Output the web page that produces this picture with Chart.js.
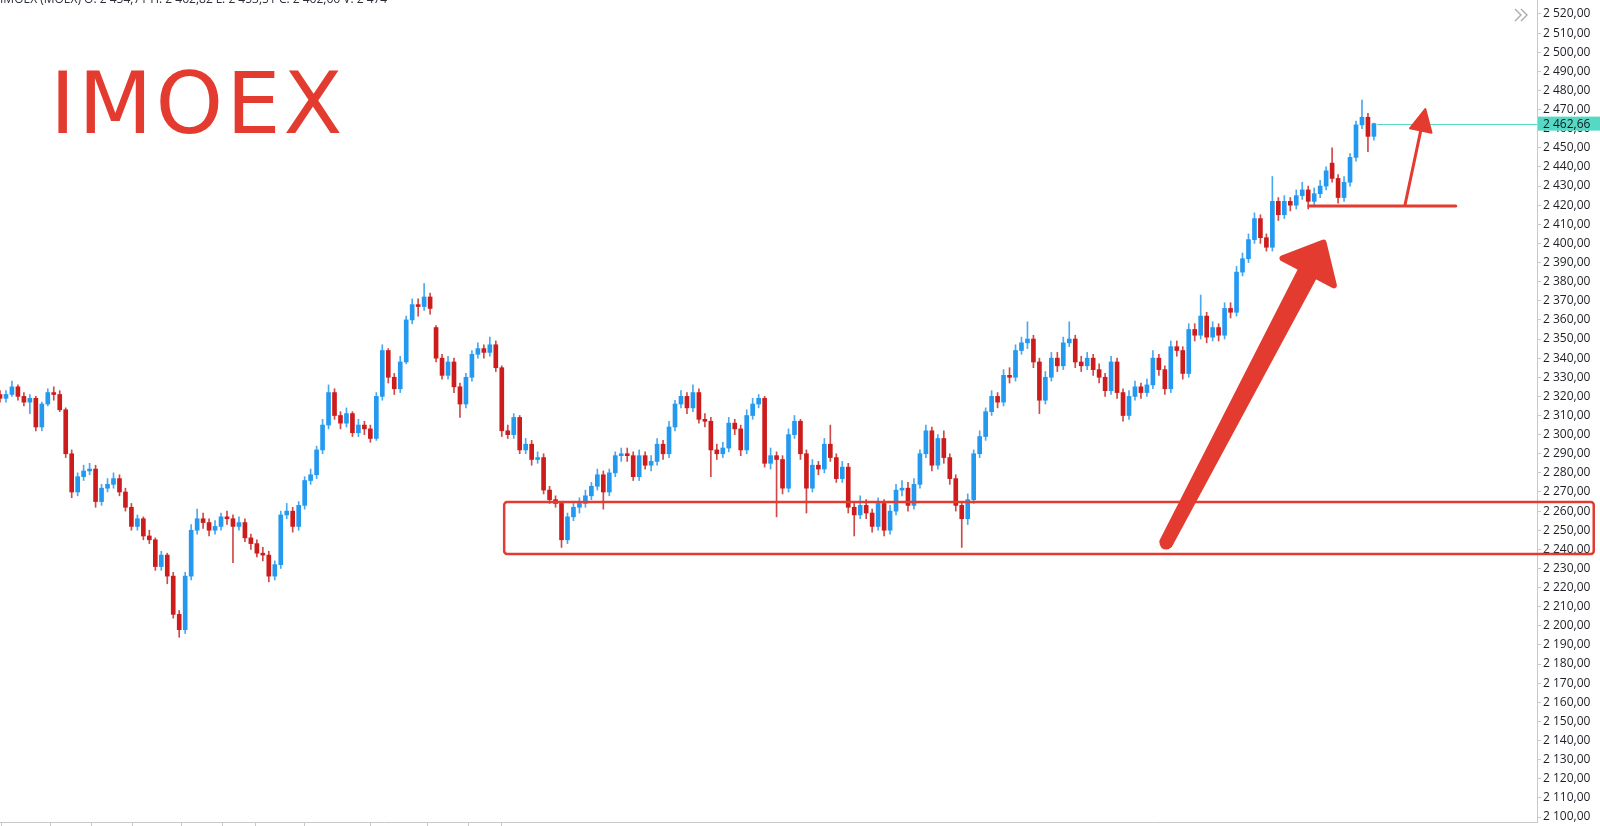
<!DOCTYPE html>
<html>
<head>
<meta charset="utf-8">
<title>IMOEX</title>
<script src="https://cdn.jsdelivr.net/npm/chart.js@4.4.1/dist/chart.umd.min.js"></script>
<style>
  html, body { margin: 0; padding: 0; background: #fff; }
  #wrap { width: 1600px; height: 826px; }
</style>
</head>
<body>
<div id="wrap"><canvas id="chart" width="1600" height="826"></canvas></div>
<script>
// --- данные свечей (оценка по картинке) ---
const opens = [
  2321,2319,2321,2325,2320,2317,2319,2304,2316,2322,
  2321,2313,2290,2270,2278,2281,2282,2265,2272,2274,
  2277,2270,2262,2252,2256,2247,2245,2231,2237,2226,
  2206,2198,2226,2250,2256,2254,2250,2252,2257,2256,
  2252,2254,2246,2243,2238,2237,2226,2232,2258,2260,
  2252,2263,2276,2279,2292,2305,2322,2310,2306,2311,
  2301,2305,2303,2298,2320,2344,2330,2324,2338,2360,
  2368,2367,2372,2356,2340,2331,2338,2325,2316,2330,
  2342,2345,2343,2347,2335,2302,2300,2309,2292,2295,
  2287,2288,2271,2266,2264,2245,2257,2262,2264,2268,
  2273,2279,2270,2280,2289,2290,2289,2278,2289,2284,
  2286,2295,2290,2304,2316,2320,2314,2322,2308,2307,
  2292,2290,2293,2306,2303,2292,2310,2316,2319,2285,
  2289,2287,2272,2300,2307,2290,2272,2284,2282,2295,
  2288,2277,2283,2262,2258,2263,2259,2252,2264,2250,
  2260,2271,2272,2263,2274,2290,2302,2284,2298,2288,
  2277,2263,2256,2266,2290,2299,2312,2320,2317,2331,
  2330,2344,2348,2350,2338,2318,2330,2340,2336,2348,
  2350,2338,2336,2340,2334,2330,2323,2338,2322,2310,
  2320,2325,2322,2326,2340,2334,2324,2346,2344,2332,
  2355,2352,2362,2351,2356,2352,2366,2364,2385,2392,
  2402,2413,2403,2398,2422,2415,2422,2420,2425,2428,
  2422,2426,2430,2442,2434,2424,2432,2445,2462,2466,
  2456
];
const highs = [
  2323,2323,2328,2326,2322,2321,2320,2317,2324,2325,
  2323,2314,2292,2280,2284,2285,2284,2274,2277,2280,
  2279,2272,2264,2258,2257,2250,2246,2239,2238,2228,
  2208,2228,2253,2261,2259,2256,2255,2259,2260,2258,
  2257,2256,2248,2245,2241,2239,2234,2260,2264,2262,
  2265,2278,2282,2294,2308,2326,2324,2312,2314,2312,
  2308,2307,2305,2322,2347,2345,2332,2341,2362,2371,
  2371,2379,2374,2357,2342,2341,2340,2327,2332,2344,
  2348,2347,2351,2349,2336,2305,2311,2310,2298,2297,
  2291,2290,2273,2268,2265,2259,2265,2267,2271,2275,
  2282,2281,2282,2291,2293,2293,2291,2292,2291,2289,
  2298,2297,2307,2318,2323,2322,2326,2324,2311,2309,
  2295,2296,2309,2308,2305,2313,2319,2321,2320,2293,
  2291,2289,2303,2310,2308,2292,2287,2286,2298,2305,
  2290,2286,2285,2264,2268,2266,2261,2267,2266,2263,
  2274,2276,2275,2277,2292,2305,2304,2300,2302,2290,
  2279,2265,2269,2292,2302,2314,2323,2322,2334,2335,
  2347,2351,2359,2352,2340,2333,2343,2343,2351,2359,
  2352,2341,2343,2342,2337,2332,2341,2340,2324,2323,
  2328,2327,2329,2344,2342,2336,2349,2349,2346,2358,
  2358,2373,2364,2359,2358,2369,2369,2388,2395,2405,
  2416,2415,2405,2435,2424,2425,2424,2428,2432,2430,
  2429,2433,2440,2450,2436,2435,2447,2464,2475,2468,
  2463
];
const lows = [
  2317,2317,2320,2318,2315,2311,2302,2302,2315,2318,
  2312,2288,2267,2268,2276,2279,2262,2263,2270,2272,
  2268,2260,2250,2250,2245,2243,2229,2229,2222,2204,
  2194,2196,2224,2248,2251,2247,2248,2250,2253,2233,
  2250,2244,2240,2236,2234,2223,2224,2230,2256,2249,
  2250,2261,2274,2277,2290,2303,2308,2303,2304,2299,
  2299,2300,2296,2297,2318,2327,2321,2322,2337,2358,
  2362,2365,2363,2338,2329,2329,2322,2309,2314,2328,
  2340,2340,2341,2333,2299,2298,2298,2290,2290,2284,
  2285,2269,2264,2262,2241,2243,2255,2259,2262,2266,
  2271,2261,2268,2278,2286,2286,2276,2276,2282,2281,
  2284,2287,2288,2302,2314,2311,2312,2306,2304,2278,
  2287,2288,2291,2300,2289,2290,2308,2314,2283,2282,
  2257,2269,2270,2298,2287,2259,2270,2279,2280,2286,
  2275,2275,2259,2247,2256,2256,2249,2250,2247,2248,
  2258,2268,2260,2261,2272,2288,2281,2282,2285,2274,
  2260,2241,2253,2264,2288,2297,2310,2314,2315,2327,
  2328,2342,2345,2335,2311,2316,2328,2333,2334,2346,
  2335,2333,2334,2331,2327,2320,2321,2319,2307,2308,
  2318,2319,2320,2324,2331,2321,2322,2341,2329,2330,
  2349,2350,2348,2349,2349,2350,2361,2362,2383,2390,
  2400,2400,2396,2396,2412,2413,2417,2418,2423,2418,
  2420,2424,2428,2432,2421,2422,2430,2443,2460,2448,
  2454
];
const closes = [
  2319,2321,2325,2320,2317,2319,2304,2316,2322,2321,
  2313,2290,2270,2278,2281,2282,2265,2272,2274,2277,
  2270,2262,2252,2256,2247,2245,2231,2237,2226,2206,
  2198,2226,2250,2256,2254,2250,2252,2257,2256,2252,
  2254,2246,2243,2238,2237,2226,2232,2258,2260,2252,
  2263,2276,2279,2292,2305,2322,2310,2306,2311,2301,
  2305,2303,2298,2320,2344,2330,2324,2338,2360,2368,
  2367,2372,2366,2340,2331,2338,2325,2316,2330,2342,
  2345,2343,2347,2335,2302,2300,2309,2292,2295,2287,
  2288,2271,2266,2264,2245,2257,2262,2264,2268,2273,
  2279,2270,2280,2289,2290,2289,2278,2289,2284,2286,
  2295,2290,2304,2316,2320,2314,2322,2308,2307,2292,
  2290,2293,2306,2303,2292,2310,2316,2319,2285,2289,
  2287,2272,2300,2307,2290,2272,2284,2282,2295,2288,
  2277,2283,2262,2258,2263,2259,2252,2264,2250,2260,
  2271,2272,2263,2274,2290,2302,2284,2298,2288,2277,
  2263,2256,2266,2290,2299,2312,2320,2317,2331,2330,
  2344,2348,2350,2338,2318,2330,2340,2336,2348,2350,
  2338,2336,2340,2334,2330,2323,2338,2322,2310,2320,
  2325,2322,2326,2340,2334,2324,2346,2344,2332,2355,
  2352,2362,2351,2356,2352,2366,2364,2385,2392,2402,
  2413,2403,2398,2422,2415,2422,2420,2425,2428,2422,
  2426,2430,2438,2434,2424,2432,2445,2462,2466,2456,
  2462.66
];

// отметки начала дней на оси времени (индексы свечей)
const dayStarts = [4.4, 12.6, 18.1, 26.3, 34.5, 40, 45.5, 56.4, 67.5, 75.7, 81.2];

// подписи оси цены
const priceTicks = [];
for (let v = 2100; v <= 2520; v += 10) priceTicks.push(v);

const headerText = 'IMOEX (MOEX) O: 2 454,71 H: 2 462,82 L: 2 453,51 C: 2 462,66 V: 2 474';
const lastPrice = 2462.66;

// разметка на графике (в координатах данных: индекс свечи, цена)
const zoneBox = { x0: 84.4, x1: 266.8, top: 2264.8, bottom: 2237.6 };
const bigArrow = { x0: 195.2, y0: 2243.3, x1: 221.8, y1: 2401.8 };
const supportLine = { x0: 219.1, x1: 243.7, y: 2419.6 };
const smallArrow = { x0: 235.2, y0: 2420.1, x1: 238.6, y1: 2470.3 };

const UP = '#2399f0', DOWN = '#cc1c1c';
const UP_WICK = '#4aa8f0', DOWN_WICK = '#d04848';
const MARK_RED = '#e43b30';
const PRICE_LINE = '#55d8c4';
const AXIS_TEXT = '#1c1f26';
const AXIS_LINE = '#c9c9c9';

function fmtPrice(v) {
  const [i, d] = v.toFixed(2).split('.');
  return i.replace(/\B(?=(\d{3})+(?!\d))/g, ' ') + ',' + d;
}

const idx = closes.map((_, i) => i);
const isUp = i => closes[i] >= opens[i];

function drawFatArrow(ctx, tx, ty, hx, hy) {
  const dx = hx - tx, dy = hy - ty, len = Math.hypot(dx, dy);
  const ux = dx / len, uy = dy / len, nx = -uy, ny = ux;
  const tipX = hx - ux * 3, tipY = hy - uy * 3;
  const headLen = 33, headHalf = 29, w0 = 4, w1 = 7.5;
  const bx = tipX - ux * headLen, by = tipY - uy * headLen;
  ctx.beginPath();
  ctx.moveTo(tx + nx * w0, ty + ny * w0);
  ctx.lineTo(bx + nx * w1, by + ny * w1);
  ctx.lineTo(bx + nx * headHalf, by + ny * headHalf);
  ctx.lineTo(tipX, tipY);
  ctx.lineTo(bx - nx * headHalf, by - ny * headHalf);
  ctx.lineTo(bx - nx * w1, by - ny * w1);
  ctx.lineTo(tx - nx * w0, ty - ny * w0);
  ctx.closePath();
  ctx.fill();
  ctx.lineJoin = 'round';
  ctx.lineWidth = 6;
  ctx.stroke();
  ctx.beginPath();
  ctx.arc(tx, ty, 6.5, 0, Math.PI * 2);
  ctx.fill();
}

function drawThinArrow(ctx, tx, ty, hx, hy) {
  const dx = hx - tx, dy = hy - ty, len = Math.hypot(dx, dy);
  const ux = dx / len, uy = dy / len, nx = -uy, ny = ux;
  const headLen = 22, headHalf = 11;
  const bx = hx - ux * headLen, by = hy - uy * headLen;
  ctx.lineWidth = 3;
  ctx.lineCap = 'round';
  ctx.beginPath();
  ctx.moveTo(tx, ty);
  ctx.lineTo(bx + ux * 2, by + uy * 2);
  ctx.stroke();
  ctx.beginPath();
  ctx.moveTo(hx, hy);
  ctx.lineTo(bx + nx * headHalf, by + ny * headHalf);
  ctx.lineTo(bx - nx * headHalf, by - ny * headHalf);
  ctx.closePath();
  ctx.lineJoin = 'round';
  ctx.lineWidth = 2;
  ctx.fill();
  ctx.stroke();
}

const overlayPlugin = {
  id: 'overlay',
  afterDraw(chart) {
    const { ctx, chartArea: area } = chart;
    const xs = chart.scales.x, ys = chart.scales.y;
    const px = v => xs.getPixelForValue(v);
    const py = v => ys.getPixelForValue(v);
    ctx.save();

    // обрезанная верхняя подпись шкалы
    ctx.font = '12px "Open Sans"';
    ctx.fillStyle = AXIS_TEXT;
    ctx.textAlign = 'left';
    ctx.textBaseline = 'middle';
    ctx.fillText(fmtPrice(2530), area.right + 6, py(2530));

    // строка OHLC сверху (почти срезана)
    ctx.fillStyle = '#2a2e39';
    ctx.textBaseline = 'alphabetic';
    ctx.fillText(headerText, 0, 3);

    // линия и метка последней цены
    const yLast = py(lastPrice);
    ctx.strokeStyle = PRICE_LINE;
    ctx.lineWidth = 1;
    ctx.beginPath();
    ctx.moveTo(px(closes.length - 1) + 3, Math.round(yLast) + 0.5);
    ctx.lineTo(area.right, Math.round(yLast) + 0.5);
    ctx.stroke();
    ctx.fillStyle = PRICE_LINE;
    ctx.fillRect(area.right + 1, yLast - 7, chart.width - area.right, 14);
    ctx.fillStyle = '#131722';
    ctx.textBaseline = 'middle';
    ctx.fillText(fmtPrice(lastPrice), area.right + 6, yLast + 0.5);

    // значок »
    ctx.strokeStyle = '#a9acb3';
    ctx.lineWidth = 1.4;
    ctx.beginPath();
    ctx.moveTo(1515, 9); ctx.lineTo(1521, 15); ctx.lineTo(1515, 21);
    ctx.moveTo(1521, 9); ctx.lineTo(1527, 15); ctx.lineTo(1521, 21);
    ctx.stroke();

    // надпись
    ctx.fillStyle = MARK_RED;
    ctx.strokeStyle = MARK_RED;
    ctx.font = '86px "DejaVu Sans"';
    ctx.textBaseline = 'alphabetic';
    ctx.letterSpacing = '3px';
    ctx.fillText('IMOEX', 50, 133);
    ctx.letterSpacing = '0px';

    // зона поддержки
    ctx.lineWidth = 2.5;
    ctx.beginPath();
    ctx.roundRect(px(zoneBox.x0), py(zoneBox.top), px(zoneBox.x1) - px(zoneBox.x0),
      py(zoneBox.bottom) - py(zoneBox.top), 3);
    ctx.stroke();

    // большая стрелка
    drawFatArrow(ctx, px(bigArrow.x0), py(bigArrow.y0), px(bigArrow.x1), py(bigArrow.y1));

    // уровень и маленькая стрелка
    ctx.lineWidth = 3;
    ctx.lineCap = 'round';
    ctx.beginPath();
    ctx.moveTo(px(supportLine.x0), py(supportLine.y));
    ctx.lineTo(px(supportLine.x1), py(supportLine.y));
    ctx.stroke();
    drawThinArrow(ctx, px(smallArrow.x0), py(smallArrow.y0), px(smallArrow.x1), py(smallArrow.y1));

    ctx.restore();
  }
};

Chart.defaults.font.family = '"Open Sans", sans-serif';

const chart = new Chart(document.getElementById('chart'), {
  type: 'bar',
  data: {
    datasets: [
      {
        label: 'wick',
        data: idx.map(i => ({ x: i, y: [lows[i], highs[i]] })),
        backgroundColor: idx.map(i => isUp(i) ? UP_WICK : DOWN_WICK),
        barThickness: 1,
        grouped: false,
        order: 2
      },
      {
        label: 'body',
        data: idx.map(i => ({ x: i, y: [Math.min(opens[i], closes[i]), Math.max(opens[i], closes[i])] })),
        backgroundColor: idx.map(i => isUp(i) ? UP : DOWN),
        barThickness: 4,
        grouped: false,
        order: 1
      }
    ]
  },
  options: {
    responsive: false,
    animation: false,
    events: [],
    layout: { padding: 0 },
    plugins: { legend: { display: false }, tooltip: { enabled: false } },
    scales: {
      x: {
        type: 'linear',
        min: 0,
        max: 257.3,
        offset: false,
        afterBuildTicks: s => { s.ticks = dayStarts.map(v => ({ value: v })); },
        afterFit: s => { s.paddingLeft = 0; s.paddingRight = 0; },
        ticks: { display: false },
        grid: { drawOnChartArea: false, tickLength: 4, color: AXIS_LINE },
        border: { color: AXIS_LINE }
      },
      y: {
        position: 'right',
        min: 2097.4,
        max: 2527.32,
        afterBuildTicks: s => { s.ticks = priceTicks.map(v => ({ value: v })); },
        afterFit: s => { s.width = 63; s.paddingTop = 0; s.paddingBottom = 0; },
        ticks: {
          autoSkip: false,
          padding: 2,
          color: AXIS_TEXT,
          font: { size: 12 },
          callback: v => fmtPrice(v)
        },
        grid: { drawOnChartArea: false, tickLength: 4, color: AXIS_LINE },
        border: { color: AXIS_LINE }
      }
    }
  },
  plugins: [overlayPlugin]
});
</script>
</body>
</html>
